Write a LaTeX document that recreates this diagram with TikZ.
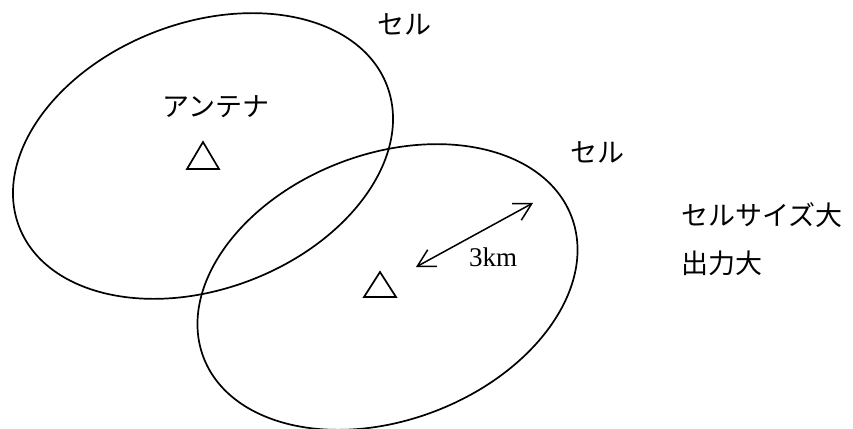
\documentclass[tikz,border=0pt]{standalone}
\usepackage{fontspec}
\setmainfont{Liberation Serif}
\newfontfamily\jp{Noto Sans CJK JP}
\usetikzlibrary{arrows.meta}
\begin{document}
\begin{tikzpicture}[x=1pt,y=-1pt,
  lw/.style={line width=1.7pt},
  jtext/.style={font=\jp\fontsize{27}{31}\selectfont, inner sep=0pt},
  etext/.style={font=\fontsize{27}{31}\selectfont, inner sep=0pt},
  dimarrow/.style={line width=1.5pt, >={Straight Barb[length=17pt,width=19pt]}, <->}]
\useasboundingbox (0,0) rectangle (853,428);
% cells
\draw[lw, rotate around={21:(203,156)}] (203,156) ellipse [x radius=197pt, y radius=133pt];
\fill[white] (359,40.5) rectangle (362.5,45.5);
\draw[lw, rotate around={21:(387.5,287)}] (387.5,287) ellipse [x radius=197pt, y radius=133pt];
% antennas
\draw[lw, line join=miter] (187,169) -- (203,142) -- (219,169) -- cycle;
\draw[lw, line join=miter] (364,297) -- (380,272) -- (396,297) -- cycle;
% arrow
\coordinate (a1) at (416,267);
\coordinate (a2) at (533,203);
\draw[dimarrow] (a1) -- (a2);
% labels
\node[jtext] (cell1) at (404,24) {セル};
\node[jtext] (ant) at (216,107) {アンテナ};
\node[jtext] (cell2) at (597,152) {セル};
\node[jtext, anchor=west] (size) at (681,215) {セルサイズ大};
\node[jtext, anchor=west] (out) at (681,263) {出力大};
\node[etext] (km) at (493,257) {3km};
\end{tikzpicture}
\end{document}
